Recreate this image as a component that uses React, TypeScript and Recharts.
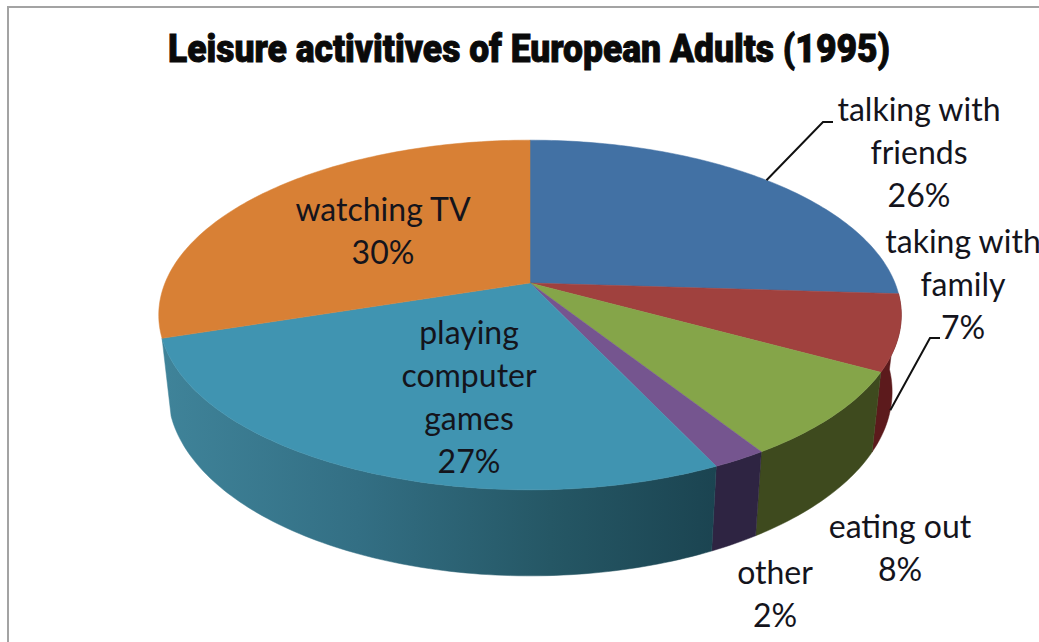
import { PieChart, Pie, Cell } from "recharts"

const activities = ["talking with friends", "taking with family", "eating out", "other", "playing computer games", "watching TV"]
const shares = [26, 7, 8, 2, 27, 30]
const topColors = ["#4271a4", "#a0413e", "#85a549", "#75558f", "#4094b1", "#d88035"]
const wallColors = ["none", "#5c1a1c", "#3e4a1e", "#2e2442", "url(#gamesWall)", "none"]

// wrapped label text, one entry per line
const labelLines = [
  ["talking with", "friends", "26%"],
  ["taking with", "family", "7%"],
  ["eating out", "8%"],
  ["other", "2%"],
  ["playing", "computer", "games", "27%"],
  ["watching TV", "30%"],
]
const labelAnchors = [
  { x: 919, y: 121 },
  { x: 963, y: 253 },
  { x: 900, y: 538 },
  { x: 775, y: 584 },
  { x: 469, y: 344 },
  { x: 383, y: 221 },
]

const WIDTH = 1039
const HEIGHT = 642
const CX = 530
const CY = 283
const RADIUS = 365

// perspective tilt of the disc, top face and underside
const TILT = 0.183
const TOP_SCALE_Y = 169
const BOTTOM_CY = 358
const BOTTOM_RADIUS = 356
const BOTTOM_SCALE_Y = 178

const rad = (deg: number) => (deg * Math.PI) / 180

function projectTop(angle: number) {
  const u = Math.cos(rad(angle))
  const v = -Math.sin(rad(angle))
  const w = 1 - TILT * v
  return { x: CX + (RADIUS * u) / w, y: CY + (TOP_SCALE_Y * v) / w }
}

function projectBottom(angle: number) {
  const u = Math.cos(rad(angle))
  const v = -Math.sin(rad(angle))
  const w = 1 - TILT * v
  return { x: CX + (BOTTOM_RADIUS * u) / w, y: BOTTOM_CY + (BOTTOM_SCALE_Y * v) / w }
}

function arcPoints(start: number, end: number, project: (a: number) => { x: number; y: number }) {
  const steps = Math.max(2, Math.ceil(Math.abs(end - start)))
  const pts = []
  for (let i = 0; i <= steps; i++) pts.push(project(start + ((end - start) * i) / steps))
  return pts
}

const toPath = (pts: { x: number; y: number }[]) =>
  pts.map((p, i) => `${i ? "L" : "M"}${p.x.toFixed(2)} ${p.y.toFixed(2)}`).join(" ")

function TopSector(props: any) {
  const pts = arcPoints(props.startAngle, props.endAngle, projectTop)
  return <path d={`${toPath(pts)} L${CX} ${CY} Z`} fill={props.fill} stroke={props.fill} strokeWidth={0.5} />
}

function WallSector(props: any) {
  if (props.fill === "none") return <g />
  const top = arcPoints(props.startAngle, props.endAngle, projectTop)
  const bottom = arcPoints(props.startAngle, props.endAngle, projectBottom).reverse()
  return <path d={`${toPath([...top, ...bottom])} Z`} fill={props.fill} stroke={props.fill} strokeWidth={0.5} />
}

function ActivityLabel(props: any) {
  const { index, midAngle } = props
  const anchor = labelAnchors[index]
  let leader = null
  if (index === 0) {
    const p = projectTop(midAngle)
    leader = `${p.x},${p.y} 823,122 833,122`
  } else if (index === 1) {
    const p = projectBottom(midAngle)
    leader = `${p.x},${p.y} 930,338 940,338`
  }
  return (
    <g>
      {leader && <polyline points={leader} fill="none" stroke="#111" strokeWidth={2} />}
      <text x={anchor.x} y={anchor.y} textAnchor="middle" fontFamily="Lato" fontSize={32} fill="#14141c">
        {labelLines[index].map((line, i) => (
          <tspan key={line} x={anchor.x} y={anchor.y + i * 43}>
            {line}
          </tspan>
        ))}
      </text>
    </g>
  )
}

const data = activities.map((name, i) => ({ name, value: shares[i] }))

export default function App() {
  return (
    <div style={{ position: "absolute", left: 0, top: 0, width: WIDTH, height: HEIGHT, overflow: "hidden", background: "#fff" }}>
      <div style={{ position: "absolute", left: 7, top: 6, width: 1100, height: 700, border: "2px solid #a3a3a3" }} />
      <div style={{ position: "absolute", left: 0, top: 0 }}>
        <PieChart width={WIDTH} height={HEIGHT}>
          <defs>
            <linearGradient id="gamesWall" gradientUnits="userSpaceOnUse" x1={165} y1={0} x2={716} y2={0}>
              <stop offset="0%" stopColor="#3f8399" />
              <stop offset="35%" stopColor="#336f84" />
              <stop offset="70%" stopColor="#255765" />
              <stop offset="100%" stopColor="#1b4451" />
            </linearGradient>
          </defs>
          <text x={529} y={62} textAnchor="middle" fontFamily="Roboto" fontWeight={900} fontSize={38} textLength={722} lengthAdjust="spacingAndGlyphs" fill="#0a0a0a" stroke="#0a0a0a" strokeWidth={0.9}>
            Leisure activitives of European Adults (1995)
          </text>
          <Pie data={data} dataKey="value" cx={CX} cy={CY} outerRadius={RADIUS} startAngle={90} endAngle={-270} stroke="none" isAnimationActive={false} shape={WallSector} label={false} labelLine={false}>
            {wallColors.map((c, i) => (
              <Cell key={i} fill={c} />
            ))}
          </Pie>
          <Pie data={data} dataKey="value" cx={CX} cy={CY} outerRadius={RADIUS} startAngle={90} endAngle={-270} stroke="none" isAnimationActive={false} shape={TopSector} label={ActivityLabel} labelLine={false}>
            {topColors.map((c, i) => (
              <Cell key={i} fill={c} />
            ))}
          </Pie>
        </PieChart>
      </div>
    </div>
  )
}
